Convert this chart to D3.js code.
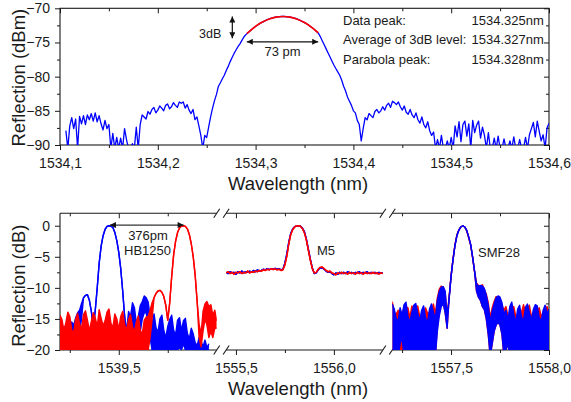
<!DOCTYPE html>
<html>
<head>
<meta charset="utf-8">
<script src="https://cdn.jsdelivr.net/npm/d3@7"></script>
<style>
  body { margin: 0; background: #fff; }
  svg { display: block; }
</style>
</head>
<body>
<svg id="chart" width="571" height="402"></svg>
<script>
// ---------------- data ----------------
// Upper panel: single FBG reflection spectrum (dBm), sampled every 2 pm from 1534.106 nm
const topStart = 1534.106;
const topStep = 0.002;
const topReflection = [
  -87.9,-90.5,-87.2,-86.0,-87.6,-86.2,-90.5,-85.8,-86.9,-85.7,
  -87.0,-85.6,-86.3,-85.4,-86.5,-85.3,-86.6,-85.7,-86.9,-87.8,
  -86.4,-87.6,-87.0,-90.5,-88.3,-90.5,-88.9,-90.5,-89.0,-90.5,
  -87.6,-89.2,-90.5,-90.5,-89.8,-90.5,-87.4,-90.5,-87.0,-85.6,
  -85.9,-86.2,-85.1,-85.5,-84.8,-84.5,-85.3,-84.9,-84.3,-84.6,
  -85.0,-84.2,-84.0,-84.7,-84.4,-83.8,-84.2,-84.5,-83.7,-83.9,
  -83.7,-84.6,-84.1,-84.9,-85.4,-84.8,-86.3,-85.9,-87.2,-88.6,
  -90.5,-88.6,-88.9,-87.4,-85.9,-84.6,-83.5,-82.6,-81.4,-80.9,
  -80.3,-79.8,-79.1,-78.5,-77.8,-77.2,-76.6,-76.1,-75.6,-75.2,
  -74.7,-74.2,-73.85,-73.6,-73.35,-73.1,-72.85,-72.65,-72.45,-72.25,
  -72.1,-71.95,-71.8,-71.65,-71.55,-71.45,-71.4,-71.3,-71.25,-71.25,
  -71.2,-71.2,-71.2,-71.25,-71.25,-71.3,-71.4,-71.45,-71.55,-71.65,
  -71.8,-71.95,-72.1,-72.25,-72.45,-72.65,-72.85,-73.1,-73.35,-73.6,
  -74.1,-74.7,-75.3,-75.9,-76.5,-77.1,-77.7,-78.3,-78.8,-79.3,
  -79.8,-80.5,-81.4,-82.1,-83.0,-83.6,-84.2,-85.0,-85.3,-86.4,
  -87.0,-89.4,-87.6,-86.0,-86.3,-85.4,-85.7,-86.0,-85.1,-84.8,
  -85.3,-85.0,-84.4,-84.9,-84.2,-83.9,-84.5,-83.6,-83.8,-84.1,
  -83.7,-84.4,-84.9,-84.3,-85.2,-85.5,-84.8,-85.6,-86.0,-85.3,
  -86.3,-86.8,-85.9,-87.0,-87.5,-86.6,-87.9,-88.6,-88.1,-90.5,
  -89.2,-90.5,-88.6,-90.5,-90.5,-89.4,-90.5,-88.9,-90.5,-87.2,
  -88.8,-86.6,-89.5,-87.0,-86.5,-88.7,-86.9,-90.5,-86.4,-88.2,
  -87.1,-86.5,-89.0,-87.4,-88.6,-90.5,-88.2,-90.5,-90.5,-89.0,
  -90.5,-88.7,-90.5,-90.5,-89.1,-90.5,-90.5,-89.4,-90.5,-88.8,
  -90.5,-90.5,-89.2,-90.5,-90.5,-88.9,-90.5,-88.5,-87.6,-86.7,
  -88.8,-86.5,-88.0,-89.4,-88.5,-90.5,-87.5,-86.8
];

// Parabola fitted to the top 3 dB of the peak
const fitWavelength = [1534.291,1534.298,1534.306,1534.314,1534.321,1534.328,1534.335,1534.342,1534.350,1534.357,1534.364];
const fitReflection = [-73.72,-72.86,-72.09,-71.56,-71.29,-71.2,-71.29,-71.56,-72.09,-72.75,-73.58];

const topXTicks = [1534.1,1534.2,1534.3,1534.4,1534.5,1534.6];
const topXMinor = [1534.15,1534.25,1534.35,1534.45,1534.55];
const topYTicks = [-70,-75,-80,-85,-90];
const topYMinor = [-72.5,-77.5,-82.5,-87.5];

const fwhmPm = 73;
const fwhmEdges = [1534.291, 1534.364];
const fwhmLevel = -74.9;
const threeDbMark = { wavelength: 1534.2762, from: -71.2, to: -74.4 };
const peakNames = ["Data peak:", "Average of 3dB level:", "Parabola peak:"];
const peakValues = [1534.325, 1534.327, 1534.328];

// Lower panel: normalised reflection (dB) of three fibres, 10 pm sampling.
// An entry is either one value or [upper, lower] for the noise band at that sample.
const bottomStep = 0.01;
const segmentStarts = [1539.2, 1555.45, 1557.2];
const segmentSpan = 0.8;
const segmentTicks = [[1539.25,1539.5,1539.75],[1555.5,1555.75,1556.0],[1557.25,1557.5,1557.75,1558.0]];
const bottomYTicks = [0,-5,-10,-15,-20];
const bottomYMinor = [-2.5,-7.5,-12.5,-17.5];

const hbBlue = [
  [-16.5,-21],[-17.0,-21],[-16.2,-21],[-16.8,-21],[-16.0,-21],[-16.5,-21],[-15.5,-21],[-16.0,-21],[-14.8,-21],[-14.0,-19],
  [-13.6,-17],[-12.5,-15],-11.6,-11.2,-11.1,-12.0,-13.8,-16.5,-13.6,-10.0,
  -6.0,-3.3,-1.6,-0.6,-0.1,0,-0.05,-0.3,-1.1,-2.4,
  -4.3,-6.9,-10.5,-14.6,[-17.0,-20],[-13.8,-19],[-14.6,-18],[-12.4,-17],[-13.2,-19],[-15.8,-20],
  [-14.6,-18],[-12.8,-17],[-12.2,-15],[-11.3,-14],[-11.6,-14],[-12.3,-16],[-14.6,-18],[-15.8,-20],[-14.2,-21],[-16.4,-21],
  [-17.2,-21],[-15.0,-21],[-14.4,-21],[-16.9,-21],[-18.0,-21],[-16.2,-21],[-15.1,-21],[-14.4,-20],[-16.8,-20.5],[-17.6,-21],
  [-15.2,-20],[-14.8,-19.5],[-16.9,-20],[-15.3,-19],[-14.9,-20],[-17.3,-21],[-18.2,-21],[-16.5,-21],[-17.4,-21],[-18.8,-21],
  [-19.3,-21],[-18.0,-21],[-18.6,-21],[-19.5,-21],[-18.4,-21],[-19.6,-21],[-19.0,-21],null,null,null,
  null
];
const hbRed = [
  [-14.4,-21],[-15.1,-21],[-16.9,-21],[-15.6,-21],[-13.9,-21],[-14.6,-21],[-16.8,-21],[-17.2,-21],[-15.0,-21],[-14.1,-21],
  [-15.8,-21],[-16.6,-21],[-14.3,-21],[-13.7,-21],[-15.2,-21],[-16.9,-21],[-15.4,-21],[-14.0,-21],[-14.8,-21],[-16.3,-21],
  [-13.5,-21],[-14.9,-21],[-16.1,-21],[-15.3,-21],[-13.9,-21],[-13.4,-21],[-15.7,-21],[-16.4,-21],[-14.2,-21],[-15.0,-21],
  [-16.7,-21],[-14.6,-21],[-13.8,-21],[-15.9,-21],[-16.8,-21],[-15.1,-21],[-14.3,-21],[-16.2,-21],[-17.1,-21],[-15.4,-21],
  [-14.5,-21],[-16.9,-21],[-17.4,-21],[-15.2,-21],[-14.7,-21],[-14.6,-20],[-13.6,-18],[-12.4,-15],-11.6,-10.9,
  -10.5,-10.4,-10.7,-11.4,-12.8,-15.2,-12.4,-8.2,-4.7,-2.5,
  -1.1,-0.35,-0.05,0,-0.1,-0.5,-1.4,-2.9,-5.0,-8.0,
  -12.2,[-15.8,-18],[-17.5,-19.5],[-13.8,-17],[-12.6,-15],[-12.2,-16],[-13.0,-18],[-12.7,-17],[-14.4,-18],[-13.6,-16.5],
  [-15.3,-16.5]
];

const m5Blue = [
  -7.5,-7.7,-7.4,-7.6,-7.5,-7.8,-7.4,-7.6,-7.3,-7.6,
  -7.4,-7.5,-7.3,-7.5,-7.2,-7.4,-7.1,-7.3,-7.2,-7.0,
  -7.1,-6.9,-7.05,-6.9,-7.0,-6.85,-7.0,-6.9,-7.1,-7.0,
  -6.0,-4.5,-2.6,-1.2,-0.5,-0.15,-0.02,0,-0.08,-0.4,
  -1.0,-2.2,-3.8,-5.4,-6.8,-7.7,-7.6,-7.1,-6.8,-6.8,
  -7.0,-7.3,-7.5,-7.4,-7.7,-7.9,-7.6,-7.8,-7.5,-7.7,
  -7.5,-7.7,-7.4,-7.6,-7.5,-7.7,-7.5,-7.6,-7.4,-7.7,
  -7.5,-7.6,-7.4,-7.7,-7.5,-7.6,-7.5,-7.7,-7.5,-7.6,
  -7.6
];
const m5Red = [
  -7.6,-7.4,-7.7,-7.5,-7.8,-7.5,-7.6,-7.4,-7.7,-7.5,
  -7.6,-7.3,-7.6,-7.4,-7.5,-7.3,-7.4,-7.2,-7.3,-7.1,
  -7.2,-7.0,-7.1,-6.95,-7.05,-6.95,-7.1,-7.0,-7.2,-7.1,
  -6.3,-4.9,-2.9,-1.4,-0.6,-0.2,-0.03,0,-0.1,-0.5,
  -1.2,-2.4,-4.0,-5.6,-6.9,-7.6,-7.5,-7.0,-6.7,-6.65,
  -6.9,-7.2,-7.4,-7.3,-7.6,-7.7,-7.9,-7.6,-7.7,-7.5,
  -7.7,-7.6,-7.8,-7.5,-7.7,-7.6,-7.8,-7.5,-7.7,-7.6,
  -7.8,-7.5,-7.7,-7.6,-7.7,-7.5,-7.7,-7.6,-7.8,-7.6,
  -7.7
];

const smfBlue = [
  [-12.6,-21],[-13.4,-21],[-14.9,-21],[-15.4,-21],[-13.2,-19],[-14.4,-18],[-12.7,-21],[-12.3,-21],[-14.6,-21],[-15.5,-21],
  [-13.9,-21],[-12.8,-21],[-12.5,-21],[-14.1,-21],[-15.3,-21],[-13.6,-21],[-12.9,-21],[-14.8,-21],[-15.6,-21],[-13.4,-21],
  [-12.6,-21],[-13.9,-21],[-15.0,-21],[-12.0,-17],[-10.6,-14.5],[-9.9,-13],[-9.8,-12.5],[-10.5,-14],[-14.5,-16.5],-11.8,
  -8.2,-5.5,-3.2,-1.6,-0.7,-0.2,0,-0.2,-0.75,-1.8,
  -3.0,-5.0,-7.3,[-9.3,-10.5],[-9.8,-11.5],[-9.6,-12],[-9.7,-13],[-10.1,-13.5],[-11.2,-15],[-12.8,-17.5],
  [-15.5,-21],[-13.8,-19],[-12.6,-17],[-11.6,-16],[-11.3,-15.5],[-11.5,-16],[-12.4,-17.5],[-14.2,-21],[-13.6,-20],[-15.2,-19],
  [-13.0,-21],[-12.3,-21],[-14.2,-21],[-15.6,-21],[-13.4,-21],[-12.8,-21],[-14.7,-21],[-15.3,-21],[-13.1,-21],[-12.6,-21],
  [-14.0,-21],[-15.2,-21],[-13.5,-21],[-12.7,-21],[-12.9,-21],[-14.8,-21],[-15.4,-21],[-13.6,-21],[-12.8,-21],[-14.2,-21],
  [-13.4,-21]
];
const smfRed = [
  [-12.2,-21],[-14.0,-21],[-14.2,-21],[-13.6,-21],[-14.8,-21],[-13.9,-21],[-13.5,-21],[-13.0,-21],[-13.2,-21],[-14.8,-21],
  [-12.9,-21],[-13.7,-21],[-14.2,-21],[-12.9,-21],[-14.6,-21],[-14.4,-21],[-13.8,-21],[-13.2,-21],[-14.1,-21],[-14.0,-21],
  [-13.6,-21],[-12.6,-21],[-14.2,-21],[-11.6,-16],[-10.2,-14],[-9.7,-12.5],[-9.9,-12.5],[-10.8,-14],[-14.2,-16.5],-11.6,
  -8.1,-5.4,-3.1,-1.5,-0.7,-0.2,0,-0.2,-0.8,-1.9,
  -3.1,-5.1,-7.4,[-9.2,-10.5],[-9.6,-11.5],[-9.8,-12],[-9.5,-13],[-10.3,-13.5],[-11.0,-15],[-12.4,-17.5],
  [-14.8,-21],[-13.2,-19],[-12.2,-17],[-11.4,-16],[-11.6,-15.5],[-11.8,-16],[-12.8,-17.5],[-13.6,-21],[-13.0,-20],[-14.4,-19],
  [-14.2,-21],[-13.4,-21],[-13.0,-21],[-14.5,-21],[-14.6,-21],[-13.6,-21],[-13.9,-21],[-12.7,-21],[-14.0,-21],[-13.5,-21],
  [-12.8,-21],[-14.6,-21],[-14.1,-21],[-13.6,-21],[-13.8,-21],[-13.2,-21],[-14.5,-21],[-14.2,-21],[-13.4,-21],[-13.0,-21],
  [-14.1,-21]
];

const hbPeaks = [1539.455, 1539.831];
const hbSpacingPm = 376;
const fibreNames = ["HB1250", "M5", "SMF28"];

// ---------------- drawing ----------------
const FONT = '"Liberation Sans", Arial, Helvetica, sans-serif';
const INK = "#1a1a1a";
const BLUE = "#0000ff", RED = "#ff0000";
const svg = d3.select("#chart");
const defs = svg.append("defs");

const L = 60, R = 549;
const commaFmt = v => d3.format(".1f")(v).replace(".", ",");

defs.append("marker")
  .attr("id", "head")
  .attr("viewBox", "0 0 10 10")
  .attr("refX", 10).attr("refY", 5)
  .attr("markerWidth", 8).attr("markerHeight", 6)
  .attr("markerUnits", "userSpaceOnUse")
  .attr("orient", "auto-start-reverse")
  .append("path").attr("d", "M0,0L10,5L0,10Z").attr("fill", "#111");

function styleAxis(g, size) {
  g.select(".domain").remove();
  g.selectAll("line").attr("stroke", INK).attr("stroke-width", 1);
  g.selectAll("text").attr("font-family", FONT).attr("font-size", size || 14).attr("fill", INK);
}

// ===== upper panel =====
const tT = 8.3, tB = 145;
const topX = d3.scaleLinear().domain([1534.1, 1534.6]).range([L, R]);
const topY = d3.scaleLinear().domain([-90, -70]).range([tB, tT]);

const gTop = svg.append("g");
defs.append("clipPath").attr("id", "clipTop")
  .append("rect").attr("x", L).attr("y", tT).attr("width", R - L).attr("height", tB - tT);

gTop.append("g").attr("transform", `translate(0,${tB})`)
  .call(d3.axisBottom(topX).tickValues(topXTicks).tickSize(5).tickPadding(8).tickFormat(commaFmt)).call(styleAxis);
gTop.append("g").attr("transform", `translate(0,${tB})`)
  .call(d3.axisBottom(topX).tickValues(topXMinor).tickSize(3).tickFormat("")).call(styleAxis);
gTop.append("g").attr("transform", `translate(0,${tT})`)
  .call(d3.axisTop(topX).tickValues(topXTicks).tickSize(-5).tickFormat("")).call(styleAxis);
gTop.append("g").attr("transform", `translate(0,${tT})`)
  .call(d3.axisTop(topX).tickValues(topXMinor).tickSize(-3).tickFormat("")).call(styleAxis);
gTop.append("g").attr("transform", `translate(${L},0)`)
  .call(d3.axisLeft(topY).tickValues(topYTicks).tickSize(5).tickPadding(5).tickFormat(d3.format("d"))).call(styleAxis);
gTop.append("g").attr("transform", `translate(${L},0)`)
  .call(d3.axisLeft(topY).tickValues(topYMinor).tickSize(3).tickFormat("")).call(styleAxis);
gTop.append("g").attr("transform", `translate(${R},0)`)
  .call(d3.axisRight(topY).tickValues(topYTicks).tickSize(-5).tickFormat("")).call(styleAxis);
gTop.append("g").attr("transform", `translate(${R},0)`)
  .call(d3.axisRight(topY).tickValues(topYMinor).tickSize(-3).tickFormat("")).call(styleAxis);
gTop.append("rect").attr("x", L).attr("y", tT).attr("width", R - L).attr("height", tB - tT)
  .attr("fill", "none").attr("stroke", INK).attr("stroke-width", 1.1);

const topPts = topReflection.map((v, i) => [topStart + i * topStep, v]);
gTop.append("path").datum(topPts)
  .attr("clip-path", "url(#clipTop)")
  .attr("fill", "none").attr("stroke", BLUE).attr("stroke-width", 1.3).attr("stroke-linejoin", "round")
  .attr("d", d3.line().x(d => topX(d[0])).y(d => topY(d[1])));

const fitPts = fitWavelength.map((w, i) => [w, fitReflection[i]]);
gTop.append("path").datum(fitPts)
  .attr("fill", "none").attr("stroke", RED).attr("stroke-width", 1.7)
  .attr("d", d3.line().curve(d3.curveNatural).x(d => topX(d[0])).y(d => topY(d[1])));

// 3 dB width arrow
gTop.append("line")
  .attr("x1", topX(fwhmEdges[0])).attr("x2", topX(fwhmEdges[1]))
  .attr("y1", topY(fwhmLevel)).attr("y2", topY(fwhmLevel))
  .attr("stroke", "#111").attr("stroke-width", 1.2)
  .attr("marker-start", "url(#head)").attr("marker-end", "url(#head)");
gTop.append("text")
  .attr("x", topX((fwhmEdges[0] + fwhmEdges[1]) / 2)).attr("y", 55.5)
  .attr("text-anchor", "middle").attr("font-family", FONT).attr("font-size", 13).attr("fill", INK)
  .text(`${fwhmPm} pm`);
// 3 dB height arrow
gTop.append("line")
  .attr("x1", topX(threeDbMark.wavelength)).attr("x2", topX(threeDbMark.wavelength))
  .attr("y1", topY(threeDbMark.from)).attr("y2", topY(threeDbMark.to))
  .attr("stroke", "#111").attr("stroke-width", 1.2)
  .attr("marker-start", "url(#head)").attr("marker-end", "url(#head)");
gTop.append("text")
  .attr("x", topX(threeDbMark.wavelength) - 11).attr("y", 37.5)
  .attr("text-anchor", "end").attr("font-family", FONT).attr("font-size", 12.5).attr("fill", INK)
  .text("3dB");

// peak summary
peakNames.forEach((name, i) => {
  const yb = 24.5 + i * 19.5;
  gTop.append("text").attr("x", 343).attr("y", yb)
    .attr("font-family", FONT).attr("font-size", 13).attr("fill", INK).text(name);
  gTop.append("text").attr("x", 471.5).attr("y", yb)
    .attr("font-family", FONT).attr("font-size", 13).attr("fill", INK)
    .text(d3.format(".3f")(peakValues[i]) + "nm");
});

gTop.append("text").attr("x", 298).attr("y", 190)
  .attr("text-anchor", "middle").attr("font-family", FONT).attr("font-size", 18.5).attr("fill", INK)
  .text("Wavelength (nm)");
gTop.append("text").attr("transform", `translate(25,${(tT + tB) / 2 + 1}) rotate(-90)`)
  .attr("text-anchor", "middle").attr("font-family", FONT).attr("font-size", 18.5).attr("fill", INK)
  .text("Reflection (dBm)");

// ===== lower panel =====
const bT = 213.3, bB = 350;
const gap = 9.4;
const segW = (R - L - 2 * gap) / 3;
const botY = d3.scaleLinear().domain([-20, 2]).range([bB, bT]);
const segX = segmentStarts.map((s, i) => {
  const x0 = L + i * (segW + gap);
  return d3.scaleLinear().domain([s, s + segmentSpan]).range([x0, x0 + segW]);
});

const gBot = svg.append("g");

segX.forEach((sx, i) => {
  const [x0, x1] = sx.range();
  defs.append("clipPath").attr("id", "clipSeg" + i)
    .append("rect").attr("x", x0).attr("y", bT).attr("width", x1 - x0).attr("height", bB - bT);
  const major = segmentTicks[i].filter(v => Math.abs(v * 2 - Math.round(v * 2)) < 1e-6);
  const minor = segmentTicks[i].filter(v => !major.includes(v));
  gBot.append("g").attr("transform", `translate(0,${bB})`)
    .call(d3.axisBottom(sx).tickValues(major).tickSize(5).tickPadding(8).tickFormat(commaFmt)).call(styleAxis);
  gBot.append("g").attr("transform", `translate(0,${bB})`)
    .call(d3.axisBottom(sx).tickValues(minor).tickSize(3).tickFormat("")).call(styleAxis);
  gBot.append("g").attr("transform", `translate(0,${bT})`)
    .call(d3.axisTop(sx).tickValues(major).tickSize(-5).tickFormat("")).call(styleAxis);
  gBot.append("g").attr("transform", `translate(0,${bT})`)
    .call(d3.axisTop(sx).tickValues(minor).tickSize(-3).tickFormat("")).call(styleAxis);
  [bT, bB].forEach(yy => gBot.append("line")
    .attr("x1", x0).attr("x2", x1).attr("y1", yy).attr("y2", yy)
    .attr("stroke", INK).attr("stroke-width", 1.1));
});
gBot.append("g").attr("transform", `translate(${L},0)`)
  .call(d3.axisLeft(botY).tickValues(bottomYTicks).tickSize(5).tickPadding(5).tickFormat(d3.format("d"))).call(styleAxis);
gBot.append("g").attr("transform", `translate(${L},0)`)
  .call(d3.axisLeft(botY).tickValues(bottomYMinor).tickSize(3).tickFormat("")).call(styleAxis);
gBot.append("g").attr("transform", `translate(${R},0)`)
  .call(d3.axisRight(botY).tickValues(bottomYTicks).tickSize(-5).tickFormat("")).call(styleAxis);
gBot.append("g").attr("transform", `translate(${R},0)`)
  .call(d3.axisRight(botY).tickValues(bottomYMinor).tickSize(-3).tickFormat("")).call(styleAxis);
[L, R].forEach(xx => gBot.append("line")
  .attr("x1", xx).attr("x2", xx).attr("y1", bT).attr("y2", bB)
  .attr("stroke", INK).attr("stroke-width", 1.1));

// axis break marks
for (let i = 0; i < 2; i++) {
  const xa = segX[i].range()[1], xb = segX[i + 1].range()[0];
  [bT, bB].forEach(yy => {
    [xa, xb].forEach(xx => gBot.append("line")
      .attr("x1", xx - 3).attr("y1", yy + 4.5).attr("x2", xx + 3).attr("y2", yy - 4.5)
      .attr("stroke", INK).attr("stroke-width", 1.1));
  });
}

function expand(series, start) {
  return series.map((v, i) => v == null ? null : {
    w: start + i * bottomStep,
    hi: Array.isArray(v) ? v[0] : v,
    lo: Array.isArray(v) ? v[1] : v
  });
}
function drawTrace(i, series, color) {
  const sx = segX[i];
  const pts = expand(series, segmentStarts[i]);
  const g = gBot.append("g").attr("clip-path", `url(#clipSeg${i})`);
  g.append("path").datum(pts)
    .attr("fill", color).attr("stroke", "none")
    .attr("d", d3.area().defined(d => d).x(d => sx(d.w)).y0(d => botY(d.lo)).y1(d => botY(d.hi)));
  ["hi", "lo"].forEach(k => g.append("path").datum(pts)
    .attr("fill", "none").attr("stroke", color).attr("stroke-width", 1.4).attr("stroke-linejoin", "round")
    .attr("d", d3.line().defined(d => d).x(d => sx(d.w)).y(d => botY(d[k]))));
}
drawTrace(0, hbBlue, BLUE);
drawTrace(0, hbRed, RED);
drawTrace(1, m5Blue, BLUE);
drawTrace(1, m5Red, RED);
drawTrace(2, smfRed, RED);
drawTrace(2, smfBlue, BLUE);

// peak spacing arrow for HB1250
gBot.append("line")
  .attr("x1", segX[0](hbPeaks[0])).attr("x2", segX[0](hbPeaks[1]))
  .attr("y1", botY(0.1)).attr("y2", botY(0.1))
  .attr("stroke", "#333").attr("stroke-width", 1.2)
  .attr("marker-start", "url(#head)").attr("marker-end", "url(#head)");
const txt = (x, y, s, anchor) => gBot.append("text").attr("x", x).attr("y", y)
  .attr("text-anchor", anchor || "start").attr("font-family", FONT).attr("font-size", 13).attr("fill", INK).text(s);
txt(148, 239.5, `${hbSpacingPm}pm`, "middle");
txt(147.5, 255, fibreNames[0], "middle");
txt(317, 254.5, fibreNames[1]);
txt(478, 256.5, fibreNames[2]);

gBot.append("text").attr("x", 298).attr("y", 395)
  .attr("text-anchor", "middle").attr("font-family", FONT).attr("font-size", 18.5).attr("fill", INK)
  .text("Wavelength (nm)");
gBot.append("text").attr("transform", `translate(25,${(bT + bB) / 2 + 4}) rotate(-90)`)
  .attr("text-anchor", "middle").attr("font-family", FONT).attr("font-size", 18.5).attr("fill", INK)
  .text("Reflection (dB)");
</script>
</body>
</html>
